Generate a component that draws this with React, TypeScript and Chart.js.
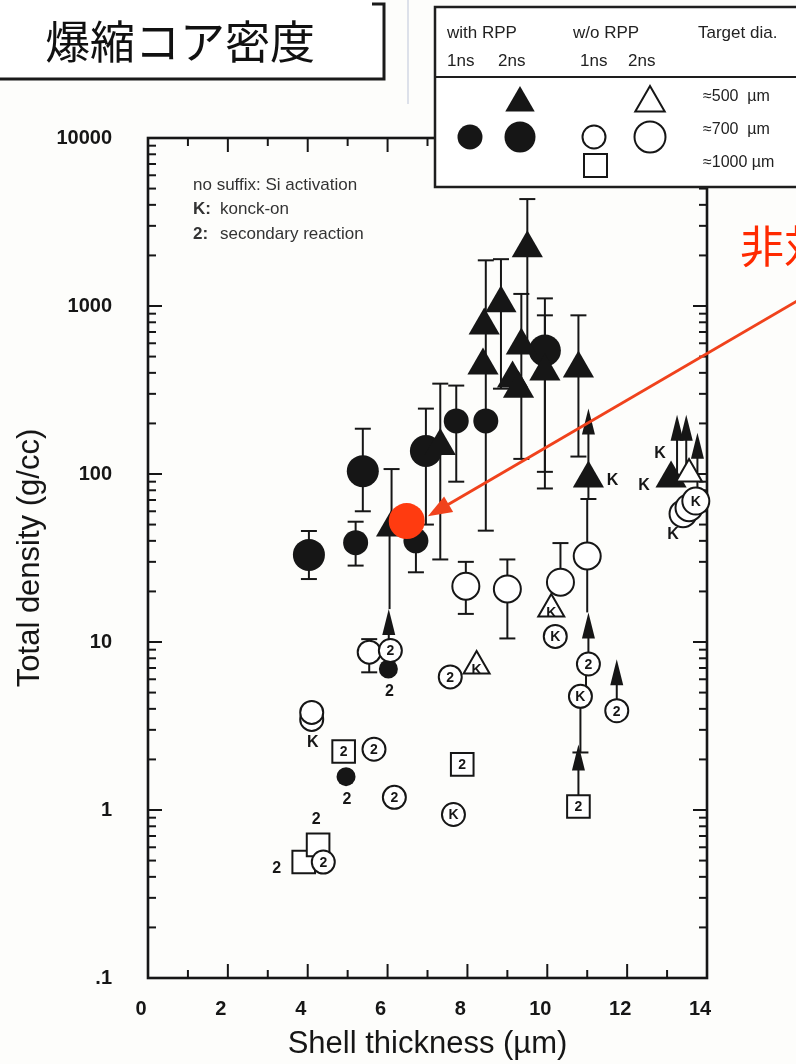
import React, { useEffect, useRef } from 'react';
import { Chart, registerables } from 'chart.js';

Chart.register(...registerables);

const CANVAS_W = 796;
const CANVAS_H = 1064;
const PLOT_LEFT = 148;
const PLOT_RIGHT = 707;
const PLOT_TOP = 138;
const PLOT_BOTTOM = 978;
const INK = '#161616';
const LATIN = '"Liberation Sans", Arial, Helvetica, sans-serif';
const CJK = '"Noto Sans CJK JP", "Noto Sans CJK SC", sans-serif';

// ---- axis ticks ----
const xTickValues = [0, 2, 4, 6, 8, 10, 12, 14];
const xMinorValues = [1, 3, 5, 7, 9, 11, 13];
const yTickValues = [0.1, 1, 10, 100, 1000, 10000];
const yTickLabels = ['.1', '1', '10', '100', '1000', '10000'];
const yMinorFactors = [2, 3, 4, 5, 6, 7, 8, 9];

// ---- texts ----
const titleText = '爆縮コア密度';
const calloutText = '非対称';
const xTitle = 'Shell thickness (µm)';
const yTitle = 'Total density (g/cc)';
const noteLines = [
  ['', 'no suffix: Si activation'],
  ['K:', 'konck-on'],
  ['2:', 'secondary reaction'],
];
const legendGroups = ['with RPP', 'w/o RPP', 'Target dia.'];
const legendPulses = ['1ns', '2ns'];
const legendSizes = ['≈500  µm', '≈700  µm', '≈1000 µm'];

// ---- data: [thickness µm, density g/cc, errLow, errHigh] ----
// with RPP, 1 ns, ~700 µm (filled small circles)
const rpp1nsCircles = [
  [5.2, 39, 28.5, 52],
  [6.71, 40, 26, null],
  [7.72, 207, 90, 336],
  [8.46, 207, 46, 1870],
];
// with RPP, 1 ns, secondary reaction dots
const rpp1nsDots = [
  [6.02, 6.9],
  [4.96, 1.58],
];
// with RPP, 2 ns, ~700 µm (filled large circles)
const rpp2nsCircles = [
  [4.03, 33, 23.7, 45.8],
  [5.38, 104, 60, 186],
  [6.96, 137, 50, 245],
  [9.94, 543, 82, 1110],
];
// with RPP, 2 ns, ~500 µm (filled triangles)
const rpp2nsTriangles = [
  [6.1, 48, null, 107],
  [7.32, 147, 31, 345],
  [8.39, 443, null, null],
  [8.42, 766, null, null],
  [8.84, 1038, 322, 1900],
  [9.5, 2210, 582, 4330],
  [9.35, 582, 123, 1180],
  [9.13, 370, null, null],
  [9.28, 322, null, null],
  [9.94, 407, 103, 880],
  [10.78, 425, 127, 880],
  [11.03, 94, 71, null],
  [13.1, 94, null, null],
];
// w/o RPP, 2 ns, ~700 µm (open large circles) [x, y, lo, hi, tag]
const noRpp2nsCircles = [
  [7.96, 21.5, 14.7, 30, ''],
  [9.0, 20.7, 10.5, 31, ''],
  [10.33, 22.7, null, 38.8, ''],
  [11.0, 32.5, null, null, ''],
  [13.4, 58, null, null, ''],
  [13.55, 63, null, null, ''],
  [13.72, 69, null, null, 'K'],
];
// w/o RPP, 1 ns, ~700 µm (open small circles)
const noRpp1nsCircles = [
  [5.54, 8.7, 6.6, 10.4, ''],
  [6.07, 8.9, null, null, '2'],
  [7.57, 6.2, null, null, '2'],
  [10.2, 10.8, null, null, 'K'],
  [11.03, 7.4, null, null, '2'],
  [10.83, 4.75, 2.2, null, 'K'],
  [11.74, 3.9, null, null, '2'],
  [4.1, 3.46, null, null, ''],
  [4.1, 3.81, null, null, ''],
  [5.66, 2.3, null, null, '2'],
  [6.17, 1.19, null, null, '2'],
  [7.65, 0.94, null, null, 'K'],
  [4.39, 0.49, null, null, '2'],
];
// w/o RPP, 2 ns, ~500 µm (open triangles)
const noRpp2nsTriangles = [
  [8.23, 7.2, null, null, 'K'],
  [10.1, 15.7, null, null, 'K'],
  [13.55, 100, null, null, ''],
];
// w/o RPP, 1 ns, ~1000 µm (open squares)
const noRpp1nsSquares = [
  [4.9, 2.23, null, null, '2'],
  [7.87, 1.87, null, null, '2'],
  [10.78, 1.05, null, null, '2'],
  [3.9, 0.49, null, null, ''],
  [4.26, 0.62, null, null, ''],
];
// lower-limit arrows: [x, from, to]
const lowerLimitArrows = [
  [6.03, 8.9, 15.7],
  [11.03, 7.4, 15],
  [11.74, 3.9, 7.9],
  [10.78, 1.05, 2.45],
  [11.03, 94, 245],
  [13.25, 94, 225],
  [13.48, 94, 225],
  [13.76, 69, 176],
];
// plain connecting lines: [x, from, to]
const stems = [
  [6.05, 15.7, 48],
  [11.0, 15, 71],
  [10.97, 4.9, 7.4],
];
// tags next to markers: [x, y, text, side]
const outerTags = [
  [11.03, 94, 'K', 'right'],
  [13.1, 94, 'K', 'left'],
  [13.1, 94, 'K', 'upleft'],
  [13.4, 58, 'K', 'belowleft'],
  [4.1, 3.46, 'K', 'below'],
  [6.02, 6.9, '2', 'below'],
  [4.96, 1.58, '2', 'below'],
  [4.26, 0.62, '2', 'above'],
  [3.9, 0.49, '2', 'left'],
];
const highlightPoint = [6.48, 52.5];
const calloutFrom = [16.8, 1274];
const calloutTo = [7.01, 56];

const errorSeries = [rpp1nsCircles, rpp2nsCircles, rpp2nsTriangles, noRpp2nsCircles, noRpp1nsCircles];
const taggedSeries: [any[], number][] = [
  [noRpp1nsCircles, 0],
  [noRpp2nsCircles, 0],
  [noRpp2nsTriangles, 3],
  [noRpp1nsSquares, 0],
];
const sideOffsets: Record<string, [number, number]> = {
  right: [24, 2],
  left: [-27, 7],
  upleft: [-11, -25],
  belowleft: [-10, 21],
  below: [1, 23],
  above: [-2, -25],
};

const ptsOf = (rows: any[]) => rows.map((r) => ({ x: r[0], y: r[1] }));

function seg(ctx: CanvasRenderingContext2D, x1: number, y1: number, x2: number, y2: number) {
  ctx.beginPath();
  ctx.moveTo(x1, y1);
  ctx.lineTo(x2, y2);
  ctx.stroke();
}

function tri(ctx: CanvasRenderingContext2D, x: number, y: number, r: number, fill: boolean) {
  ctx.beginPath();
  for (let i = 0; i < 3; i++) {
    const a = (i * 2 * Math.PI) / 3;
    const px = x + Math.sin(a) * r;
    const py = y - Math.cos(a) * r;
    if (i === 0) ctx.moveTo(px, py);
    else ctx.lineTo(px, py);
  }
  ctx.closePath();
  if (fill) ctx.fill();
  else {
    ctx.fillStyle = '#fff';
    ctx.fill();
    ctx.stroke();
    ctx.fillStyle = INK;
  }
}

function circ(ctx: CanvasRenderingContext2D, x: number, y: number, r: number, fill: boolean) {
  ctx.beginPath();
  ctx.arc(x, y, r, 0, Math.PI * 2);
  if (fill) ctx.fill();
  else {
    ctx.fillStyle = '#fff';
    ctx.fill();
    ctx.stroke();
    ctx.fillStyle = INK;
  }
}

const paperPlugin = {
  id: 'paper',
  beforeDraw(chart: any) {
    const ctx = chart.ctx as CanvasRenderingContext2D;
    ctx.save();
    ctx.fillStyle = '#fdfdfb';
    ctx.fillRect(0, 0, chart.width, chart.height);
    ctx.restore();
  },
  beforeDatasetsDraw(chart: any) {
    const ctx = chart.ctx as CanvasRenderingContext2D;
    const a = chart.chartArea;
    const xs = chart.scales.x;
    const ys = chart.scales.y;
    const X = (v: number) => xs.getPixelForValue(v);
    const Y = (v: number) => ys.getPixelForValue(v);
    ctx.save();
    ctx.strokeStyle = INK;
    ctx.fillStyle = INK;
    ctx.lineWidth = 2;
    xTickValues.forEach((v) => {
      const p = X(v);
      seg(ctx, p, a.bottom, p, a.bottom - 14);
      seg(ctx, p, a.top, p, a.top + 14);
    });
    xMinorValues.forEach((v) => {
      const p = X(v);
      seg(ctx, p, a.bottom, p, a.bottom - 8);
      seg(ctx, p, a.top, p, a.top + 8);
    });
    yTickValues.forEach((v) => {
      const p = Y(v);
      seg(ctx, a.left, p, a.left + 14, p);
      seg(ctx, a.right, p, a.right - 14, p);
    });
    yTickValues.slice(0, -1).forEach((d) =>
      yMinorFactors.forEach((m) => {
        const p = Y(d * m);
        seg(ctx, a.left, p, a.left + 8, p);
        seg(ctx, a.right, p, a.right - 8, p);
      })
    );
    ctx.lineWidth = 2.6;
    ctx.strokeRect(a.left, a.top, a.right - a.left, a.bottom - a.top);

    ctx.lineWidth = 2;
    stems.forEach(([x, f, t]) => seg(ctx, X(x), Y(f), X(x), Y(t)));
    errorSeries.forEach((rows: any[]) =>
      rows.forEach((r) => {
        const px = X(r[0]);
        const py = Y(r[1]);
        [r[2], r[3]].forEach((e) => {
          if (e == null) return;
          const pe = Y(e);
          seg(ctx, px, py, px, pe);
          seg(ctx, px - 8, pe, px + 8, pe);
        });
      })
    );
    lowerLimitArrows.forEach(([x, f, t]) => {
      const px = X(x);
      const pf = Y(f);
      const pt = Y(t);
      seg(ctx, px, pf, px, pt + 12);
      ctx.beginPath();
      ctx.moveTo(px, pt);
      ctx.lineTo(px - 6.5, pt + 26);
      ctx.lineTo(px + 6.5, pt + 26);
      ctx.closePath();
      ctx.fill();
    });
    ctx.restore();
  },
  afterDatasetsDraw(chart: any) {
    const ctx = chart.ctx as CanvasRenderingContext2D;
    const a = chart.chartArea;
    const xs = chart.scales.x;
    const ys = chart.scales.y;
    const X = (v: number) => xs.getPixelForValue(v);
    const Y = (v: number) => ys.getPixelForValue(v);
    ctx.save();
    ctx.fillStyle = INK;
    ctx.strokeStyle = INK;
    ctx.textAlign = 'center';
    ctx.textBaseline = 'middle';

    // tags inside open markers
    ctx.font = `bold 14px ${LATIN}`;
    taggedSeries.forEach(([rows, dy]) =>
      rows.forEach((r) => {
        if (!r[4]) return;
        ctx.fillText(r[4], X(r[0]), Y(r[1]) + dy + 1);
      })
    );
    // tags beside markers
    ctx.font = `bold 16px ${LATIN}`;
    outerTags.forEach(([x, y, t, side]: any) => {
      const [dx, dy] = sideOffsets[side];
      ctx.fillText(t, X(x) + dx, Y(y) + dy);
    });

    // suffix notes
    ctx.textAlign = 'left';
    ctx.fillStyle = '#333';
    noteLines.forEach(([pre, txt], i) => {
      const ly = a.top + 47 + i * 24.5;
      let lx = a.left + 45;
      if (pre) {
        ctx.font = `bold 17px ${LATIN}`;
        ctx.fillText(pre, lx, ly);
        lx += 27;
      }
      ctx.font = `17px ${LATIN}`;
      ctx.fillText(txt, lx, ly);
    });

    // red callout arrow
    const fx = X(calloutFrom[0]);
    const fy = Y(calloutFrom[1]);
    const tx = X(calloutTo[0]);
    const ty = Y(calloutTo[1]);
    const ang = Math.atan2(ty - fy, tx - fx);
    const hl = 24;
    const hw = 9;
    ctx.strokeStyle = '#f0421c';
    ctx.fillStyle = '#f0421c';
    ctx.lineWidth = 3;
    seg(ctx, fx, fy, tx - Math.cos(ang) * (hl - 4), ty - Math.sin(ang) * (hl - 4));
    ctx.beginPath();
    ctx.moveTo(tx, ty);
    ctx.lineTo(tx - Math.cos(ang) * hl - Math.sin(ang) * hw, ty - Math.sin(ang) * hl + Math.cos(ang) * hw);
    ctx.lineTo(tx - Math.cos(ang) * hl + Math.sin(ang) * hw, ty - Math.sin(ang) * hl - Math.cos(ang) * hw);
    ctx.closePath();
    ctx.fill();

    // red callout text
    ctx.fillStyle = '#ff2a00';
    ctx.font = `44px ${CJK}`;
    ctx.textAlign = 'left';
    ctx.fillText(calloutText, 740, 246);

    // legend box
    ctx.fillStyle = '#ffffff';
    ctx.fillRect(435, 7, 420, 180);
    ctx.strokeStyle = '#1e1e1e';
    ctx.lineWidth = 2.5;
    ctx.strokeRect(435, 7, 420, 180);
    ctx.lineWidth = 2;
    seg(ctx, 435, 77, 800, 77);
    ctx.fillStyle = '#222';
    ctx.font = `17px ${LATIN}`;
    ctx.textAlign = 'left';
    ctx.fillText(legendGroups[0], 447, 33);
    ctx.fillText(legendGroups[1], 573, 33);
    ctx.fillText(legendGroups[2], 698, 33);
    ctx.fillText(legendPulses[0], 447, 61);
    ctx.fillText(legendPulses[1], 498, 61);
    ctx.fillText(legendPulses[0], 580, 61);
    ctx.fillText(legendPulses[1], 628, 61);
    ctx.font = `16px ${LATIN}`;
    ctx.fillText(legendSizes[0], 703, 97);
    ctx.fillText(legendSizes[1], 703, 130);
    ctx.fillText(legendSizes[2], 703, 163);
    ctx.fillStyle = INK;
    ctx.strokeStyle = INK;
    ctx.lineWidth = 2;
    tri(ctx, 520, 103, 17, true);
    tri(ctx, 650, 103, 17, false);
    circ(ctx, 470, 137, 12.5, true);
    circ(ctx, 520, 137, 15.5, true);
    circ(ctx, 594, 137, 11.5, false);
    circ(ctx, 650, 137, 15.5, false);
    ctx.fillStyle = '#fff';
    ctx.fillRect(584, 154, 23, 23);
    ctx.strokeRect(584, 154, 23, 23);

    // title box
    ctx.fillStyle = '#ffffff';
    ctx.fillRect(0, 0, 384, 79);
    ctx.strokeStyle = '#1a1a1a';
    ctx.lineWidth = 3;
    ctx.beginPath();
    ctx.moveTo(-2, 79);
    ctx.lineTo(384, 79);
    ctx.lineTo(384, 4);
    ctx.lineTo(372, 4);
    ctx.stroke();
    ctx.fillStyle = '#111';
    ctx.font = `45px ${CJK}`;
    ctx.textAlign = 'left';
    ctx.fillText(titleText, 45, 42);

    // faint scan line
    ctx.strokeStyle = '#dde1ea';
    ctx.lineWidth = 2;
    seg(ctx, 408, 0, 408, 104);
    ctx.restore();
  },
};

function buildConfig(): any {
  const open = { backgroundColor: '#ffffff', borderColor: INK, borderWidth: 2 };
  const filled = { backgroundColor: INK, borderColor: INK, borderWidth: 0 };
  const datasets = [
    { label: 'highlight', data: [{ x: highlightPoint[0], y: highlightPoint[1] }], pointStyle: 'circle', pointRadius: 18, backgroundColor: '#ff3b10', borderColor: '#ff3b10', borderWidth: 0, order: 0 },
    { label: 'w/o RPP 1ns ~700µm', data: ptsOf(noRpp1nsCircles), pointStyle: 'circle', pointRadius: 11.5, ...open, order: 1 },
    { label: 'w/o RPP 2ns ~700µm', data: ptsOf(noRpp2nsCircles), pointStyle: 'circle', pointRadius: 13.5, ...open, order: 2 },
    { label: 'w/o RPP 1ns ~1000µm', data: ptsOf(noRpp1nsSquares), pointStyle: 'rect', pointRadius: 16, ...open, order: 3 },
    { label: 'w/o RPP 2ns ~500µm', data: ptsOf(noRpp2nsTriangles), pointStyle: 'triangle', pointRadius: 15, ...open, order: 4 },
    { label: 'with RPP 1ns secondary', data: ptsOf(rpp1nsDots), pointStyle: 'circle', pointRadius: 9.5, ...filled, order: 5 },
    { label: 'with RPP 1ns ~700µm', data: ptsOf(rpp1nsCircles), pointStyle: 'circle', pointRadius: 12.5, ...filled, order: 6 },
    { label: 'with RPP 2ns ~500µm', data: ptsOf(rpp2nsTriangles), pointStyle: 'triangle', pointRadius: 18, ...filled, order: 7 },
    { label: 'with RPP 2ns ~700µm', data: ptsOf(rpp2nsCircles), pointStyle: 'circle', pointRadius: 16, ...filled, order: 8 },
  ].map((d) => ({ ...d, showLine: false, pointHoverRadius: d.pointRadius, clip: false }));

  return {
    type: 'scatter',
    data: { datasets },
    options: {
      animation: false,
      responsive: false,
      events: [],
      layout: { padding: { left: 0, right: CANVAS_W - PLOT_RIGHT, top: PLOT_TOP, bottom: 0 } },
      plugins: { legend: { display: false }, tooltip: { enabled: false } },
      scales: {
        x: {
          type: 'linear',
          min: 0,
          max: 14,
          afterBuildTicks: (s: any) => {
            s.ticks = xTickValues.map((v) => ({ value: v }));
          },
          afterFit: (s: any) => {
            s.height = CANVAS_H - PLOT_BOTTOM;
          },
          grid: { display: false, drawTicks: false },
          border: { display: false },
          ticks: {
            color: INK,
            font: { family: LATIN, size: 20, weight: 'bold' },
            padding: 19,
            labelOffset: -7,
            maxRotation: 0,
            minRotation: 0,
            autoSkip: false,
            callback: (v: any) => String(v),
          },
          title: {
            display: true,
            text: xTitle,
            color: INK,
            font: { family: LATIN, size: 31 },
            padding: { top: 0, bottom: 0.5 },
          },
        },
        y: {
          type: 'logarithmic',
          min: 0.1,
          max: 10000,
          afterBuildTicks: (s: any) => {
            s.ticks = yTickValues.map((v) => ({ value: v }));
          },
          afterFit: (s: any) => {
            s.width = PLOT_LEFT;
          },
          grid: { display: false, drawTicks: false },
          border: { display: false },
          ticks: {
            color: INK,
            font: { family: LATIN, size: 20, weight: 'bold' },
            padding: 36,
            autoSkip: false,
            callback: (_v: any, i: number) => yTickLabels[i],
          },
          title: {
            display: true,
            text: yTitle,
            color: INK,
            font: { family: LATIN, size: 31 },
            padding: { top: 12, bottom: 0 },
          },
        },
      },
    },
    plugins: [paperPlugin],
  };
}

export default function App() {
  const ref = useRef<HTMLCanvasElement | null>(null);
  useEffect(() => {
    document.body.style.margin = '0';
    const canvas = ref.current;
    if (!canvas) return;
    const chart = new Chart(canvas, buildConfig());
    return () => chart.destroy();
  }, []);
  return (
    <div style={{ position: 'absolute', left: 0, top: 0, width: CANVAS_W, height: CANVAS_H }}>
      <canvas ref={ref} width={CANVAS_W} height={CANVAS_H} style={{ width: CANVAS_W, height: CANVAS_H, display: 'block' }} />
    </div>
  );
}
